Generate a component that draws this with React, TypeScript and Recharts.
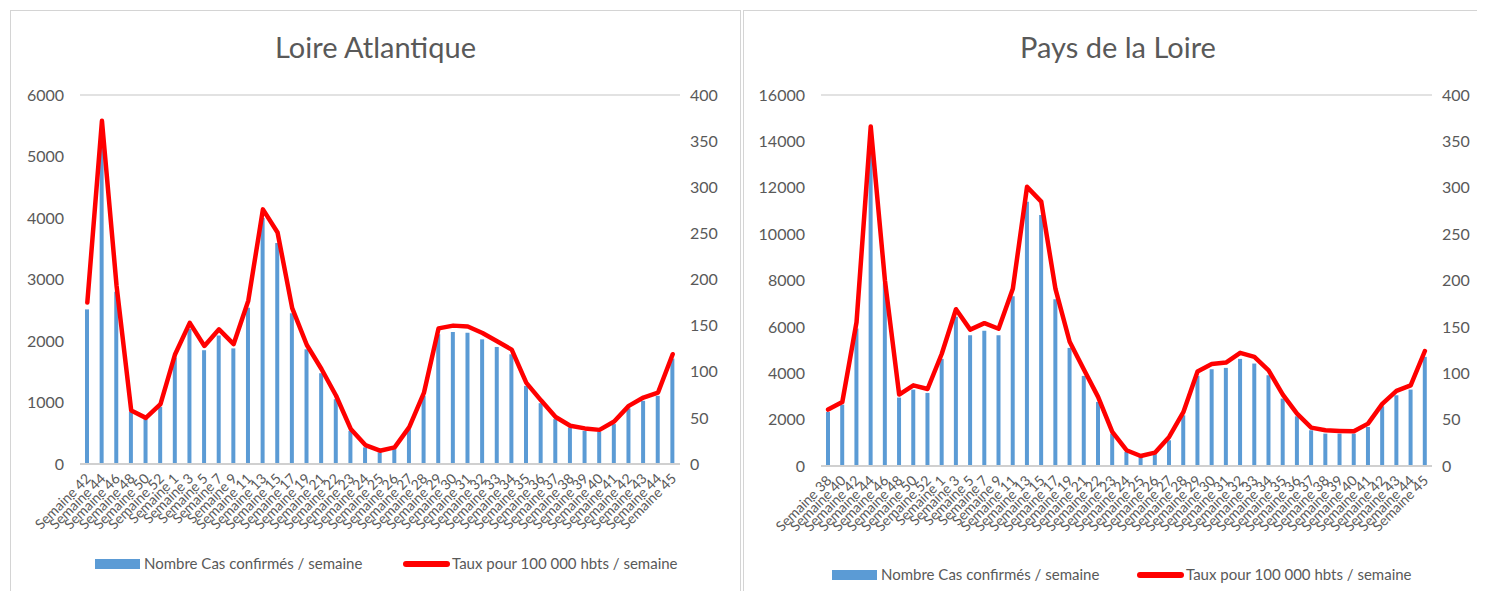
import { Bar, CartesianGrid, ComposedChart, Line, XAxis, YAxis } from 'recharts';

const laWeeks = [
  'Semaine 42', 'Semaine 44', 'Semaine 46', 'Semaine 48', 'Semaine 50', 'Semaine 52', 'Semaine 1', 'Semaine 3',
  'Semaine 5', 'Semaine 7', 'Semaine 9', 'Semaine 11', 'Semaine 13', 'Semaine 15', 'Semaine 17', 'Semaine 19',
  'Semaine 21', 'Semaine 22', 'Semaine 23', 'Semaine 24', 'Semaine 25', 'Semaine 26', 'Semaine 27', 'Semaine 28',
  'Semaine 29', 'Semaine 30', 'Semaine 31', 'Semaine 32', 'Semaine 33', 'Semaine 34', 'Semaine 35', 'Semaine 36',
  'Semaine 37', 'Semaine 38', 'Semaine 39', 'Semaine 40', 'Semaine 41', 'Semaine 42', 'Semaine 43', 'Semaine 44',
  'Semaine 45',
];
const laCases = [
  2514, 5380, 2800, 850, 730, 930, 1730, 2200, 1850, 2090, 1880, 2540, 4000, 3595, 2450, 1865, 1476, 1054, 540, 270,
  190, 243, 568, 1108, 2108, 2146, 2135, 2027, 1903, 1784, 1270, 989, 730, 595, 540, 524, 649, 903, 1027, 1108, 1714,
];
const laRate = [
  175, 372, 193, 58, 50, 65, 119, 153, 128, 146, 130, 177, 276, 251, 169, 129, 103, 74, 38, 20.5, 14.4, 18, 40, 77,
  147, 150, 149, 142, 133, 124, 88, 69, 51, 41.5, 38.6, 37, 46, 63, 72, 77.5, 119,
];

const pdlWeeks = [
  'Semaine 38', 'Semaine 40', 'Semaine 42', 'Semaine 44', 'Semaine 46', 'Semaine 48', 'Semaine 50', 'Semaine 52',
  'Semaine 1', 'Semaine 3', 'Semaine 5', 'Semaine 7', 'Semaine 9', 'Semaine 11', 'Semaine 13', 'Semaine 15',
  'Semaine 17', 'Semaine 19', 'Semaine 21', 'Semaine 22', 'Semaine 23', 'Semaine 24', 'Semaine 25', 'Semaine 26',
  'Semaine 27', 'Semaine 28', 'Semaine 29', 'Semaine 30', 'Semaine 31', 'Semaine 32', 'Semaine 33', 'Semaine 34',
  'Semaine 35', 'Semaine 36', 'Semaine 37', 'Semaine 38', 'Semaine 39', 'Semaine 40', 'Semaine 41', 'Semaine 42',
  'Semaine 43', 'Semaine 44', 'Semaine 45',
];
const pdlCases = [
  2331, 2648, 5929, 13900, 7900, 2950, 3295, 3151, 4619, 6432, 5641, 5828, 5641, 7325, 11397, 10821, 7195, 5094,
  3885, 2763, 1396, 604, 388, 504, 1108, 2187, 3885, 4173, 4231, 4619, 4418, 3914, 2907, 2144, 1540, 1396, 1396,
  1396, 1684, 2576, 3051, 3295, 4706,
];
const pdlRate = [
  60.8, 69, 155, 366, 200, 77, 87, 83, 121, 169, 147, 154, 148, 191, 301, 285, 191, 134, 104, 74.5, 36.7, 17, 10.8,
  14.4, 31.3, 58, 102, 110, 111.5, 122, 117.6, 103, 77, 56.5, 41.4, 38.5, 37.8, 37.4, 45.7, 67, 81, 87, 124,
];

const laLeftTicks = [0, 1000, 2000, 3000, 4000, 5000, 6000];
const pdlLeftTicks = [0, 2000, 4000, 6000, 8000, 10000, 12000, 14000, 16000];
const rateTicks = [0, 50, 100, 150, 200, 250, 300, 350, 400];

const FONT = 'Lato, "Open Sans", sans-serif';
const GREY = '#595959';
const BLUE = '#5b9bd5';
const RED = '#ff0000';

function WeekTick({ x, y, payload }: any) {
  const ax = x + 1;
  const ay = y + 4;
  return (
    <text
      x={ax}
      y={ay}
      transform={`rotate(-45, ${ax}, ${ay})`}
      textAnchor="end"
      dy="0.35em"
      fill={GREY}
      fontSize={14}
      fontFamily={FONT}
    >
      {payload.value}
    </text>
  );
}

function LegendRow({ y, barX, lineX }: { y: number; barX: number; lineX: number }) {
  const txt = { position: 'absolute' as const, top: y - 10, fontSize: 15, color: GREY, fontFamily: FONT, whiteSpace: 'nowrap' as const };
  return (
    <>
      <div style={{ position: 'absolute', left: barX, top: y - 5, width: 45, height: 10, background: BLUE }} />
      <div style={{ ...txt, left: barX + 49 }}>Nombre Cas confirmés / semaine</div>
      <div style={{ position: 'absolute', left: lineX, top: y - 3, width: 47, height: 6, borderRadius: 3, background: RED }} />
      <div style={{ ...txt, left: lineX + 49 }}>Taux pour 100 000 hbts / semaine</div>
    </>
  );
}

function Panel(props: {
  left: number;
  width: number;
  title: string;
  weeks: string[];
  cases: number[];
  rate: number[];
  leftTicks: number[];
  leftWidth: number;
  plotWidth: number;
  plotBottom: number;
  legendY: number;
  legendBar: number;
  legendLine: number;
}) {
  const data = props.weeks.map((w, i) => ({ week: w, cases: props.cases[i], rate: props.rate[i] }));
  const maxLeft = props.leftTicks[props.leftTicks.length - 1];
  const top = 10;
  const plotTop = 95;
  const chartHeight = 585;
  const xAxisH = 110;
  const bottomMargin = chartHeight - (props.plotBottom - top) - xAxisH;
  const tickStyle = { fill: GREY, fontSize: 16, fontFamily: FONT };

  return (
    <>
      <div
        style={{
          position: 'absolute',
          left: props.left,
          top,
          width: props.width,
          height: 620,
          borderLeft: '1px solid #d4d4d4',
          borderTop: '1px solid #d4d4d4',
          borderRight: '1px solid #d4d4d4',
          boxSizing: 'border-box',
        }}
      />
      <div
        style={{
          position: 'absolute',
          left: props.left,
          width: props.width,
          top: 29,
          textAlign: 'center',
          fontSize: 29,
          color: GREY,
          fontFamily: FONT,
        }}
      >
        {props.title}
      </div>
      <div style={{ position: 'absolute', left: props.left, top }}>
        <ComposedChart
          width={props.leftWidth + props.plotWidth + 60}
          height={chartHeight}
          data={data}
          margin={{ top: plotTop - top, right: 0, left: 0, bottom: bottomMargin }}
        >
          <CartesianGrid vertical={false} stroke="#d9d9d9" strokeWidth={1.3} />
          <XAxis
            dataKey="week"
            interval={0}
            height={xAxisH}
            tick={<WeekTick />}
            tickLine={false}
            axisLine={{ stroke: '#d0d0d0', strokeWidth: 2 }}
          />
          <YAxis
            yAxisId="left"
            domain={[0, maxLeft]}
            ticks={props.leftTicks}
            width={props.leftWidth}
            tick={tickStyle}
            tickLine={false}
            axisLine={false}
            tickMargin={10}
          />
          <YAxis
            yAxisId="right"
            orientation="right"
            domain={[0, 400]}
            ticks={rateTicks}
            width={60}
            tick={{ ...tickStyle, textAnchor: 'start' }}
            tickLine={false}
            axisLine={false}
            tickMargin={4}
          />
          <Bar yAxisId="left" dataKey="cases" fill={BLUE} barSize={4} isAnimationActive={false} />
          <Line
            yAxisId="right"
            dataKey="rate"
            type="linear"
            stroke={RED}
            strokeWidth={4.5}
            strokeLinejoin="round"
            strokeLinecap="round"
            dot={false}
            activeDot={false}
            isAnimationActive={false}
          />
        </ComposedChart>
      </div>
      <LegendRow y={props.legendY} barX={props.legendBar} lineX={props.legendLine} />
    </>
  );
}

export default function App() {
  return (
    <div style={{ position: 'relative', width: 1485, height: 599, overflow: 'hidden', margin: -8 }}>
      <Panel
        left={10}
        width={731}
        title="Loire Atlantique"
        weeks={laWeeks}
        cases={laCases}
        rate={laRate}
        leftTicks={laLeftTicks}
        leftWidth={70}
        plotWidth={600}
        plotBottom={464}
        legendY={564}
        legendBar={95}
        legendLine={403}
      />
      <Panel
        left={743}
        width={750}
        title="Pays de la Loire"
        weeks={pdlWeeks}
        cases={pdlCases}
        rate={pdlRate}
        leftTicks={pdlLeftTicks}
        leftWidth={78}
        plotWidth={611}
        plotBottom={466}
        legendY={575}
        legendBar={832}
        legendLine={1137}
      />
    </div>
  );
}
